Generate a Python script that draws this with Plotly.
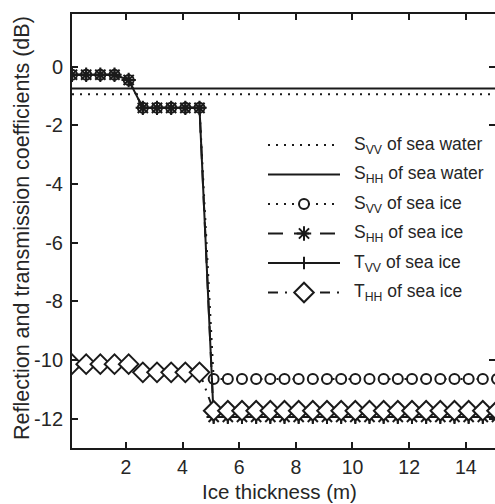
import plotly.graph_objects as go

# ---------------- data ----------------
thickness = [0.1, 0.6, 1.1, 1.6, 2.1, 2.6, 3.1, 3.6, 4.1, 4.6,
             5.1, 5.6, 6.1, 6.6, 7.1, 7.6, 8.1, 8.6, 9.1, 9.6,
             10.1, 10.6, 11.1, 11.6, 12.1, 12.6, 13.1, 13.6, 14.1, 14.6, 15.1]

svv_water = -0.94   # constant over thickness
shh_water = -0.74

svv_ice = [-0.27, -0.27, -0.27, -0.27, -0.45, -1.40, -1.40, -1.40, -1.40, -1.40,
           -10.65, -10.65, -10.65, -10.65, -10.65, -10.65, -10.65, -10.65, -10.65, -10.65,
           -10.65, -10.65, -10.65, -10.65, -10.65, -10.65, -10.65, -10.65, -10.65, -10.65, -10.65]
shh_ice = [-0.27, -0.27, -0.27, -0.27, -0.45, -1.40, -1.40, -1.40, -1.40, -1.40,
           -11.94, -11.94, -11.94, -11.94, -11.94, -11.94, -11.94, -11.94, -11.94, -11.94,
           -11.94, -11.94, -11.94, -11.94, -11.94, -11.94, -11.94, -11.94, -11.94, -11.94, -11.94]
tvv_ice = [-0.27, -0.27, -0.27, -0.27, -0.45, -1.40, -1.40, -1.40, -1.40, -1.40,
           -11.94, -11.94, -11.94, -11.94, -11.94, -11.94, -11.94, -11.94, -11.94, -11.94,
           -11.94, -11.94, -11.94, -11.94, -11.94, -11.94, -11.94, -11.94, -11.94, -11.94, -11.94]
thh_ice = [-10.14, -10.14, -10.14, -10.14, -10.14, -10.42, -10.42, -10.42, -10.42, -10.42,
           -11.73, -11.73, -11.73, -11.73, -11.73, -11.73, -11.73, -11.73, -11.73, -11.73,
           -11.73, -11.73, -11.73, -11.73, -11.73, -11.73, -11.73, -11.73, -11.73, -11.73, -11.73]

legend_labels = ["S<sub>VV</sub> of sea water", "S<sub>HH</sub> of sea water",
                 "S<sub>VV</sub> of sea ice", "S<sub>HH</sub> of sea ice",
                 "T<sub>VV</sub> of sea ice", "T<sub>HH</sub> of sea ice"]
x_ticks = [2, 4, 6, 8, 10, 12, 14]
x_ticktext = ["2", "4", "6", "8", "10", "12", "14"]
y_ticks = [0, -2, -4, -6, -8, -10, -12]
y_ticktext = ["0", "-2", "-4", "-6", "-8", "-10", "-12"]
x_title = "Ice thickness (m)"
y_title = "Reflection and transmission coefficients (dB)"

# ---------------- styles ----------------
INK = "#1a1a1a"
TXT = "#262626"
FONT = "Liberation Sans, Arial, sans-serif"
W, H = 495, 504
ML, MR, MT, MB = 72, 0, 14, 56
PW, PH = W - ML - MR, H - MT - MB

styles = [
    dict(dash="2px,6px", symbol=None, size=0, fill=None),
    dict(dash="solid", symbol=None, size=0, fill=None),
    dict(dash="2px,6px", symbol="circle", size=10, fill="white"),
    dict(dash="15px,11px", symbol="asterisk-open", size=12, fill=INK),
    dict(dash="solid", symbol="cross-thin-open", size=9, fill=INK),
    dict(dash="10px,7px,2px,7px", symbol="diamond", size=15, fill="white"),
]

series = [
    ([thickness[0], thickness[-1]], [svv_water, svv_water]),
    ([thickness[0], thickness[-1]], [shh_water, shh_water]),
    (thickness, svv_ice),
    (thickness, shh_ice),
    (thickness, tvv_ice),
    (thickness, thh_ice),
]

fig = go.Figure()
for (xs, ys), st, name in zip(series, styles, legend_labels):
    mode = "lines+markers" if st["symbol"] else "lines"
    fig.add_trace(go.Scatter(
        x=xs, y=ys, mode=mode, name=name, showlegend=False,
        line=dict(color=INK, width=2, dash=st["dash"]),
        marker=dict(symbol=st["symbol"] or "circle", size=st["size"],
                    color=st["fill"] or INK, line=dict(color=INK, width=2)),
    ))

# ---------------- custom legend (pixel coordinates on overlay axes) ----------------
leg_top, leg_step = 145, 29.5
leg_x0, leg_x1, leg_txt = 268, 340, 352
for i, (st, name) in enumerate(zip(styles, legend_labels)):
    yy = leg_top + i * leg_step
    fig.add_trace(go.Scatter(
        x=[leg_x0, leg_x1], y=[yy, yy], mode="lines", xaxis="x3", yaxis="y3",
        showlegend=False, hoverinfo="skip",
        line=dict(color=INK, width=2, dash=st["dash"])))
    if st["symbol"]:
        fig.add_trace(go.Scatter(
            x=[(leg_x0 + leg_x1) / 2], y=[yy], mode="markers", xaxis="x3", yaxis="y3",
            showlegend=False, hoverinfo="skip",
            marker=dict(symbol=st["symbol"], size=st["size"], color=st["fill"],
                        line=dict(color=INK, width=2))))
    fig.add_annotation(x=leg_txt, y=yy, xref="x3", yref="y3", text=name,
                       showarrow=False, xanchor="left", yanchor="middle",
                       font=dict(family=FONT, size=17.5, color=TXT))

# axis titles (placed in pixels relative to the plot area)
fig.add_annotation(x=(279 - ML) / PW, y=-(491 - MT - PH) / PH, xref="paper", yref="paper",
                   text=x_title, showarrow=False, xanchor="center", yanchor="middle",
                   font=dict(family=FONT, size=20.5, color=TXT))
fig.add_annotation(x=(22 - ML) / PW, y=1 - (228 - MT) / PH, xref="paper", yref="paper",
                   text=y_title, textangle=-90, showarrow=False,
                   xanchor="center", yanchor="middle",
                   font=dict(family=FONT, size=21.5, color=TXT))

axis_common = dict(showgrid=False, zeroline=False, ticks="inside", ticklen=6,
                   tickwidth=1.5, tickcolor=INK, linecolor=INK, linewidth=2)

fig.update_layout(
    width=W, height=H, margin=dict(l=ML, r=MR, t=MT, b=MB, autoexpand=False),
    paper_bgcolor="white", plot_bgcolor="white", showlegend=False,
    font=dict(family=FONT, color=TXT),
    xaxis=dict(range=[0.1, 15.03], tickvals=x_ticks, ticktext=x_ticktext,
               showline=True, mirror="ticks", ticklabelstandoff=1,
               tickfont=dict(family=FONT, size=19.5, color=TXT), **axis_common),
    yaxis=dict(range=[-13, 1.8], tickvals=y_ticks, ticktext=y_ticktext,
               showline=True, mirror=False, ticklabelstandoff=3,
               tickfont=dict(family=FONT, size=20, color=TXT), **axis_common),
    yaxis2=dict(range=[-13, 1.8], overlaying="y", side="right", tickvals=[0, -2, -10, -12],
                showticklabels=False, showline=False, showgrid=False, zeroline=False,
                ticks="inside", ticklen=6, tickwidth=1.5, tickcolor=INK),
    xaxis3=dict(range=[ML, W - MR], overlaying="x", anchor="y3", visible=False, fixedrange=True),
    yaxis3=dict(range=[H - MB, MT], overlaying="y", anchor="x3", visible=False, fixedrange=True),
)
fig.add_trace(go.Scatter(x=[thickness[0]], y=[svv_water], yaxis="y2", mode="markers",
                         marker=dict(opacity=0), showlegend=False, hoverinfo="skip"))

fig.write_html("out.html")
